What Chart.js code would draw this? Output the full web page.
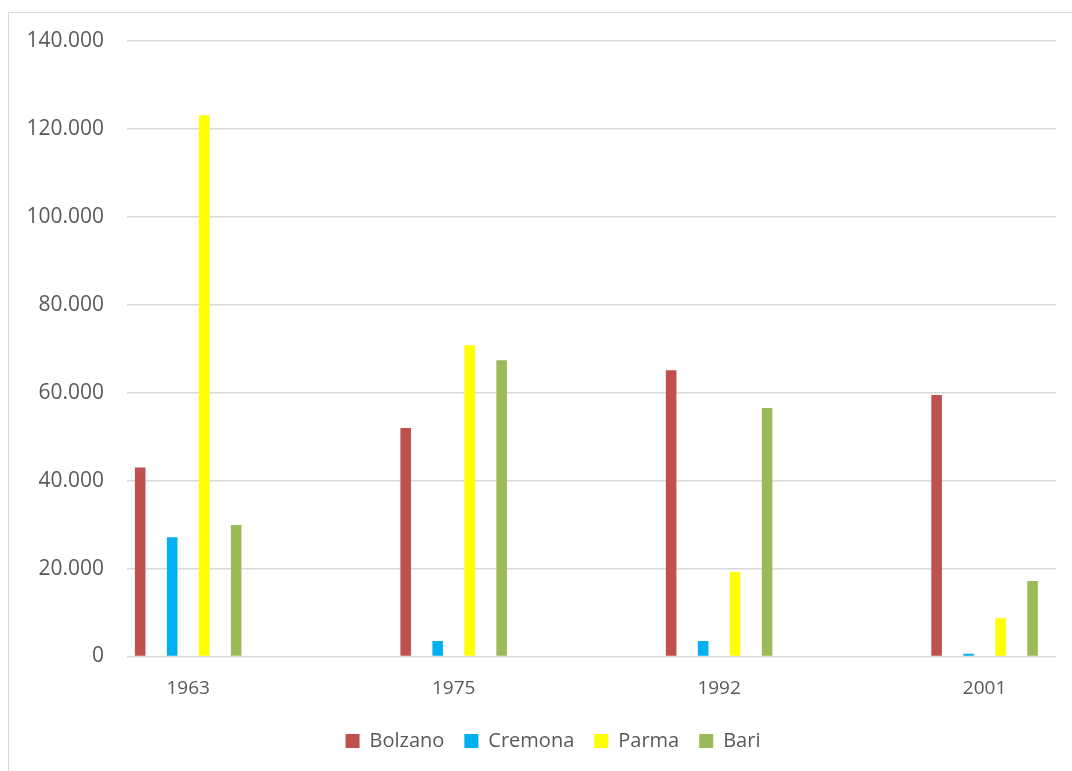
<!DOCTYPE html>
<html>
<head>
<meta charset="utf-8">
<script src="https://cdn.jsdelivr.net/npm/chart.js@4/dist/chart.umd.min.js"></script>
<style>
  html, body { margin: 0; padding: 0; background: #fff; }
  #wrap { position: relative; width: 1072px; height: 771px; }
  #frame { position: absolute; left: 8px; top: 12px; width: 1070px; height: 770px; border: 1px solid #d9d9d9; box-sizing: border-box; }
  #chartCanvas { position: absolute; left: 0; top: 0; }
</style>
</head>
<body>
<div id="wrap">
  <div id="frame"></div>
  <canvas id="chartCanvas" width="1072" height="771"></canvas>
</div>
<script>
const years = ['1963', '1975', '1992', '2001'];
const bolzano = [43000, 52000, 65100, 59500];
const cremona = [27100, 3500, 3500, 600];
const parma = [123100, 70800, 19300, 8700];
const bari = [29900, 67400, 56500, 17200];

const seriesNames = ['Bolzano', 'Cremona', 'Parma', 'Bari'];
const seriesValues = [bolzano, cremona, parma, bari];
const seriesColors = ['#C0504D', '#00B0F0', '#FFFF00', '#9BBB59'];

const textColor = '#595959';
const gridColor = '#d9d9d9';
const fontFamily = "'Open Sans', 'Liberation Sans', sans-serif";

function formatThousands(v) {
  return String(v).replace(/\B(?=(\d{3})+(?!\d))/g, '.');
}

const datasets = seriesNames.map((name, s) => ({
  label: name,
  data: years.map((_, i) => ({ x: i, y: seriesValues[s][i] })),
  backgroundColor: seriesColors[s],
  borderWidth: 0,
  categoryPercentage: 0.482,
  barPercentage: 0.33
}));

// legend sits a bit right of centre in the original
const legendShift = {
  id: 'legendShift',
  afterLayout(chart) {
    chart.legend.left += 25;
    chart.legend.right += 25;
  }
};

new Chart(document.getElementById('chartCanvas').getContext('2d'), {
  type: 'bar',
  data: { datasets: datasets },
  plugins: [legendShift],
  options: {
    responsive: false,
    animation: false,
    layout: { padding: { top: 41, left: 0, right: 16, bottom: 10 } },
    plugins: {
      legend: {
        position: 'bottom',
        labels: {
          color: textColor,
          font: { family: fontFamily, size: 20 },
          boxWidth: 14,
          boxHeight: 14,
          padding: 20
        }
      },
      tooltip: { enabled: false }
    },
    scales: {
      x: {
        type: 'linear',
        offset: false,
        min: -0.2305,
        max: 3.269,
        grid: { display: false },
        border: { display: false },
        afterBuildTicks: (scale) => {
          scale.ticks = years.map((_, i) => ({ value: i }));
        },
        afterFit: (scale) => { scale.height = 54.5; },
        ticks: {
          color: textColor,
          font: { family: fontFamily, size: 19 },
          padding: 13,
          autoSkip: false,
          maxRotation: 0,
          callback: (value) => years[value]
        }
      },
      y: {
        min: 0,
        max: 140000,
        grid: { color: gridColor, lineWidth: 1.5, drawTicks: false },
        border: { display: false },
        afterFit: (scale) => { scale.width = 127; },
        ticks: {
          stepSize: 20000,
          color: textColor,
          font: { family: fontFamily, size: 21 },
          padding: 23,
          callback: (value) => formatThousands(value)
        }
      }
    }
  }
});
</script>
</body>
</html>
